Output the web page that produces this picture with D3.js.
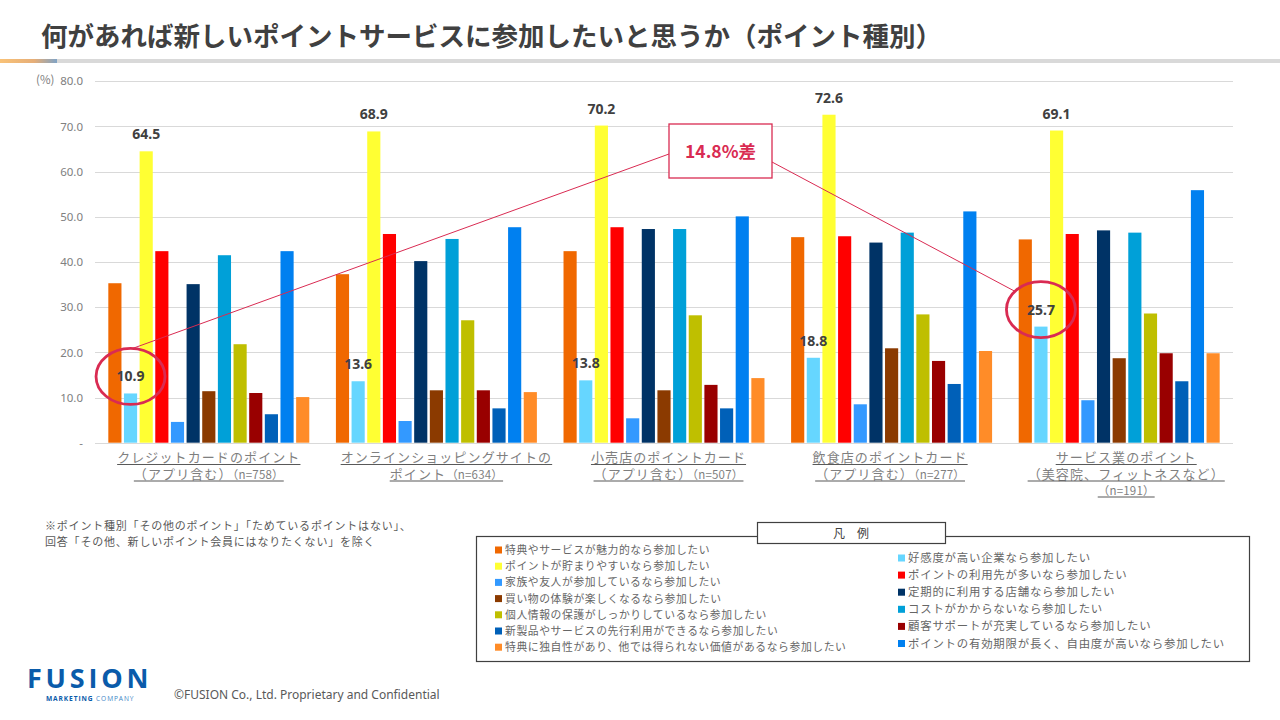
<!DOCTYPE html>
<html><head><meta charset="utf-8">
<script src="https://cdn.jsdelivr.net/npm/d3@7"></script>
<style>
html,body{margin:0;padding:0;background:#fff;}
svg{display:block;}
</style></head>
<body>
<svg id="chart" width="1280" height="720"></svg>
<script>
// ---------- DATA ----------
const categories = ["クレジットカード","オンラインショッピング","小売店","飲食店","サービス業"];
const catLine1 = ["クレジットカードのポイント","オンラインショッピングサイトの","小売店のポイントカード","飲食店のポイントカード","サービス業のポイント"];
const catLine2 = ["（アプリ含む）","ポイント","（アプリ含む）","（アプリ含む）","（美容院、フィットネスなど）"];
const catN = ["（n=758）","（n=634）","（n=507）","（n=277）","（n=191）"];
const nOwnLine = [false,false,false,false,true];

const seriesNames = [
  "特典やサービスが魅力的なら参加したい",
  "好感度が高い企業なら参加したい",
  "ポイントが貯まりやすいなら参加したい",
  "ポイントの利用先が多いなら参加したい",
  "家族や友人が参加しているなら参加したい",
  "定期的に利用する店舗なら参加したい",
  "買い物の体験が楽しくなるなら参加したい",
  "コストがかからないなら参加したい",
  "個人情報の保護がしっかりしているなら参加したい",
  "顧客サポートが充実しているなら参加したい",
  "新製品やサービスの先行利用ができるなら参加したい",
  "ポイントの有効期限が長く、自由度が高いなら参加したい",
  "特典に独自性があり、他では得られない価値があるなら参加したい"
];
const seriesColors = ["#F06800","#66D6FF","#FFFF33","#FF0000","#3399FF","#003366","#8B3A00","#00A0D8","#BFBF00","#990000","#0060B8","#0080F0","#FF8C28"];

// values per category (in series order)
const creditCard = [35.3,10.9,64.5,42.4,4.6,35.1,11.4,41.5,21.8,11.0,6.3,42.4,10.1];
const onlineShop = [37.3,13.6,68.9,46.2,4.8,40.2,11.6,45.1,27.1,11.6,7.6,47.7,11.2];
const retail     = [42.4,13.8,70.2,47.7,5.4,47.3,11.6,47.3,28.2,12.8,7.6,50.1,14.3];
const restaurant = [45.5,18.8,72.6,45.7,8.5,44.3,20.9,46.5,28.4,18.1,13.0,51.2,20.3];
const service    = [45.0,25.7,69.1,46.2,9.4,47.0,18.7,46.5,28.6,19.8,13.6,55.9,19.8];
const valuesByCategory = [creditCard, onlineShop, retail, restaurant, service];

const yTicks = [0,10,20,30,40,50,60,70,80];
const labeledSeries = [1,2];

// layout-only: horizontal nudges of the category label blocks (as in the source slide)
const catLabelShift = [0,10,4.5,-1.5,7];

// ---------- DRAW ----------
const svg = d3.select("#chart");
const JP = "'Noto Sans CJK JP','Noto Sans',sans-serif";

// title
svg.append("text").attr("x",41).attr("y",46)
  .attr("font-family",JP).attr("font-weight","bold").attr("font-size",26.5)
  .attr("fill","#404040").text("何があれば新しいポイントサービスに参加したいと思うか（ポイント種別）");

// title bar
const grad = svg.append("defs").append("linearGradient").attr("id","tg").attr("x1","0").attr("x2","1");
grad.append("stop").attr("offset","0").attr("stop-color","#F9C277");
grad.append("stop").attr("offset","0.6").attr("stop-color","#E6AE78");
grad.append("stop").attr("offset","1").attr("stop-color","#7FA3C6");
svg.append("rect").attr("x",0).attr("y",59).attr("width",1280).attr("height",4).attr("fill","#D9D9D9");
svg.append("rect").attr("x",0).attr("y",59).attr("width",57).attr("height",4).attr("fill","url(#tg)");

// scales
const x0 = d3.scaleBand().domain(categories).range([95,1233]).paddingInner(0.117).paddingOuter(0.0585);
const x1 = d3.scaleBand().domain(d3.range(seriesNames.length)).range([0,x0.bandwidth()]).paddingInner(0.16).paddingOuter(0);
const y = d3.scaleLinear().domain([0,80]).range([442.7,81.3]);

// gridlines
svg.append("g").selectAll("line").data(yTicks).join("line")
  .attr("x1",95).attr("x2",1233)
  .attr("y1",d=>Math.round(y(d))+0.5).attr("y2",d=>Math.round(y(d))+0.5)
  .attr("stroke","#D9D9D9").attr("stroke-width",1);

// y axis labels
const yAxis = d3.axisLeft(y).tickValues(yTicks).tickSize(0).tickPadding(0)
  .tickFormat(d=> d===0 ? "-" : d3.format(".1f")(d));
const ya = svg.append("g").attr("transform","translate(83,0)").call(yAxis);
ya.select(".domain").remove();
ya.selectAll("text").attr("font-family","'Noto Sans',sans-serif").attr("font-size",11.5).attr("fill","#808080");
svg.append("text").attr("x",36).attr("y",84).attr("font-family",JP).attr("font-size",11.5).attr("fill","#808080").text("(%)");

// bars
const groups = svg.append("g").selectAll("g").data(valuesByCategory).join("g")
  .attr("transform",(d,i)=>`translate(${x0(categories[i])},0)`);
groups.selectAll("rect").data(d=>d.map((v,j)=>({v,j}))).join("rect")
  .attr("x",d=>x1(d.j)).attr("width",x1.bandwidth())
  .attr("y",d=>y(d.v)).attr("height",d=>y(0)-y(d.v))
  .attr("fill",d=>seriesColors[d.j]);

// value labels
const labelPos = {};
groups.each(function(vals,i){
  labeledSeries.forEach(j=>{
    const cx = x0(categories[i]) + x1(j) + x1.bandwidth()/2;
    const by = y(vals[j]) - 12;
    d3.select(this.parentNode).append("text")
      .attr("x",cx).attr("y",by).attr("text-anchor","middle")
      .attr("font-family","'Noto Sans',sans-serif").attr("font-weight","bold").attr("font-size",14)
      .attr("fill","#404040").text(d3.format(".1f")(vals[j]));
    labelPos[i+"_"+j] = {x:cx, y:by-5};
  });
});

// category labels
const catG = svg.append("g");
categories.forEach((c,i)=>{
  const cx = x0(c) + x0.bandwidth()/2 + catLabelShift[i];
  const lines = [];
  lines.push([{t:catLine1[i],s:13}]);
  if(nOwnLine[i]){ lines.push([{t:catLine2[i],s:13}]); lines.push([{t:catN[i],s:11.5}]); }
  else lines.push([{t:catLine2[i],s:13},{t:catN[i],s:11.5}]);
  const baseY = [462,478.5,494.5];
  lines.forEach((parts,k)=>{
    const t = catG.append("text").attr("x",cx).attr("y",baseY[k]).attr("text-anchor","middle")
      .attr("font-family",JP).attr("fill","#7F7F7F");
    parts.forEach(p=>t.append("tspan").attr("font-size",p.s).attr("letter-spacing",p.s===13?1.1:0.2).text(p.t));
    const bb = t.node().getBBox();
    catG.append("line").attr("x1",bb.x).attr("x2",bb.x+bb.width)
      .attr("y1",baseY[k]+2.5).attr("y2",baseY[k]+2.5).attr("stroke","#595959").attr("stroke-width",1.2);
  });
});

// annotations
const ann = "#D92B52";
const p1 = labelPos["0_1"], p2 = labelPos["4_1"];
const rx = 34.5, ry = 28;
[p1,p2].forEach(p=>{
  svg.append("ellipse").attr("cx",p.x).attr("cy",p.y).attr("rx",rx).attr("ry",ry)
    .attr("fill","none").attr("stroke",ann).attr("stroke-width",2.8);
});
const box = {x:669,y:124,w:103,h:54};
svg.append("line").attr("x1",p1.x+2).attr("y1",p1.y-ry).attr("x2",box.x).attr("y2",box.y+30)
  .attr("stroke",ann).attr("stroke-width",1);
const th = Math.atan2(-0.64,-0.74);
svg.append("line").attr("x1",box.x+box.w).attr("y1",box.y+38)
  .attr("x2",p2.x+rx*Math.cos(th)).attr("y2",p2.y+ry*Math.sin(th))
  .attr("stroke",ann).attr("stroke-width",1);
svg.append("rect").attr("x",box.x).attr("y",box.y).attr("width",box.w).attr("height",box.h)
  .attr("fill","#fff").attr("stroke",ann).attr("stroke-width",1.3);
const diff = service[1]-creditCard[1];
svg.append("text").attr("x",box.x+box.w/2).attr("y",box.y+34).attr("text-anchor","middle")
  .attr("font-family",JP).attr("font-weight","bold").attr("font-size",17.5).attr("fill",ann)
  .text(d3.format(".1f")(diff)+"%差");

// footnote
const fn = svg.append("g").attr("font-family",JP).attr("font-size",11).attr("fill","#595959").attr("letter-spacing",0.8);
fn.append("text").attr("x",45).attr("y",530).text("※ポイント種別「その他のポイント」「ためているポイントはない」、");
fn.append("text").attr("x",45).attr("y",546).text("回答「その他、新しいポイント会員にはなりたくない」を除く");

// legend
svg.append("rect").attr("x",476.5).attr("y",536.5).attr("width",773).attr("height",125)
  .attr("fill","#fff").attr("stroke","#404040").attr("stroke-width",1.2);
svg.append("rect").attr("x",757.5).attr("y",522.5).attr("width",188).attr("height",21)
  .attr("fill","#fff").attr("stroke","#404040").attr("stroke-width",1.2);
svg.append("text").attr("x",851).attr("y",538).attr("text-anchor","middle")
  .attr("font-family",JP).attr("font-size",12).attr("fill","#404040").text("凡　例");
const leftIdx = [0,2,4,6,8,10,12], rightIdx=[1,3,5,7,9,11];
const lg = svg.append("g").attr("font-family",JP).attr("fill","#666");
leftIdx.forEach((s,k)=>{
  const cy = 550 + k*16.2;
  lg.append("rect").attr("x",495).attr("y",cy-3.5).attr("width",7).attr("height",7).attr("fill",seriesColors[s]);
  lg.append("text").attr("x",505).attr("y",cy+4).attr("font-size",10.8).attr("letter-spacing",0.6).text(seriesNames[s]);
});
rightIdx.forEach((s,k)=>{
  const cy = 558 + k*17.1;
  lg.append("rect").attr("x",898).attr("y",cy-3.5).attr("width",7).attr("height",7).attr("fill",seriesColors[s]);
  lg.append("text").attr("x",908).attr("y",cy+4).attr("font-size",11.4).attr("letter-spacing",0.8).text(seriesNames[s]);
});

// logo + copyright
svg.append("text").attr("x",27).attr("y",688).attr("font-family","'Open Sans','Noto Sans',sans-serif")
  .attr("font-weight","bold").attr("font-size",27).attr("letter-spacing",3.8).attr("fill","#0A5BAA").text("FUSION");
const mc = svg.append("text").attr("x",46).attr("y",701).attr("font-family","'Open Sans','Noto Sans',sans-serif")
  .attr("font-weight","bold").attr("font-size",6.6).attr("letter-spacing",0.9);
mc.append("tspan").attr("fill","#0A5BAA").text("MARKETING ");
mc.append("tspan").attr("fill","#3D86C6").attr("font-weight","normal").text("COMPANY");
svg.append("text").attr("x",174).attr("y",699).attr("font-family","'Noto Sans',sans-serif")
  .attr("font-size",12).attr("fill","#595959").text("©FUSION Co., Ltd. Proprietary and Confidential");
</script>
</body></html>
